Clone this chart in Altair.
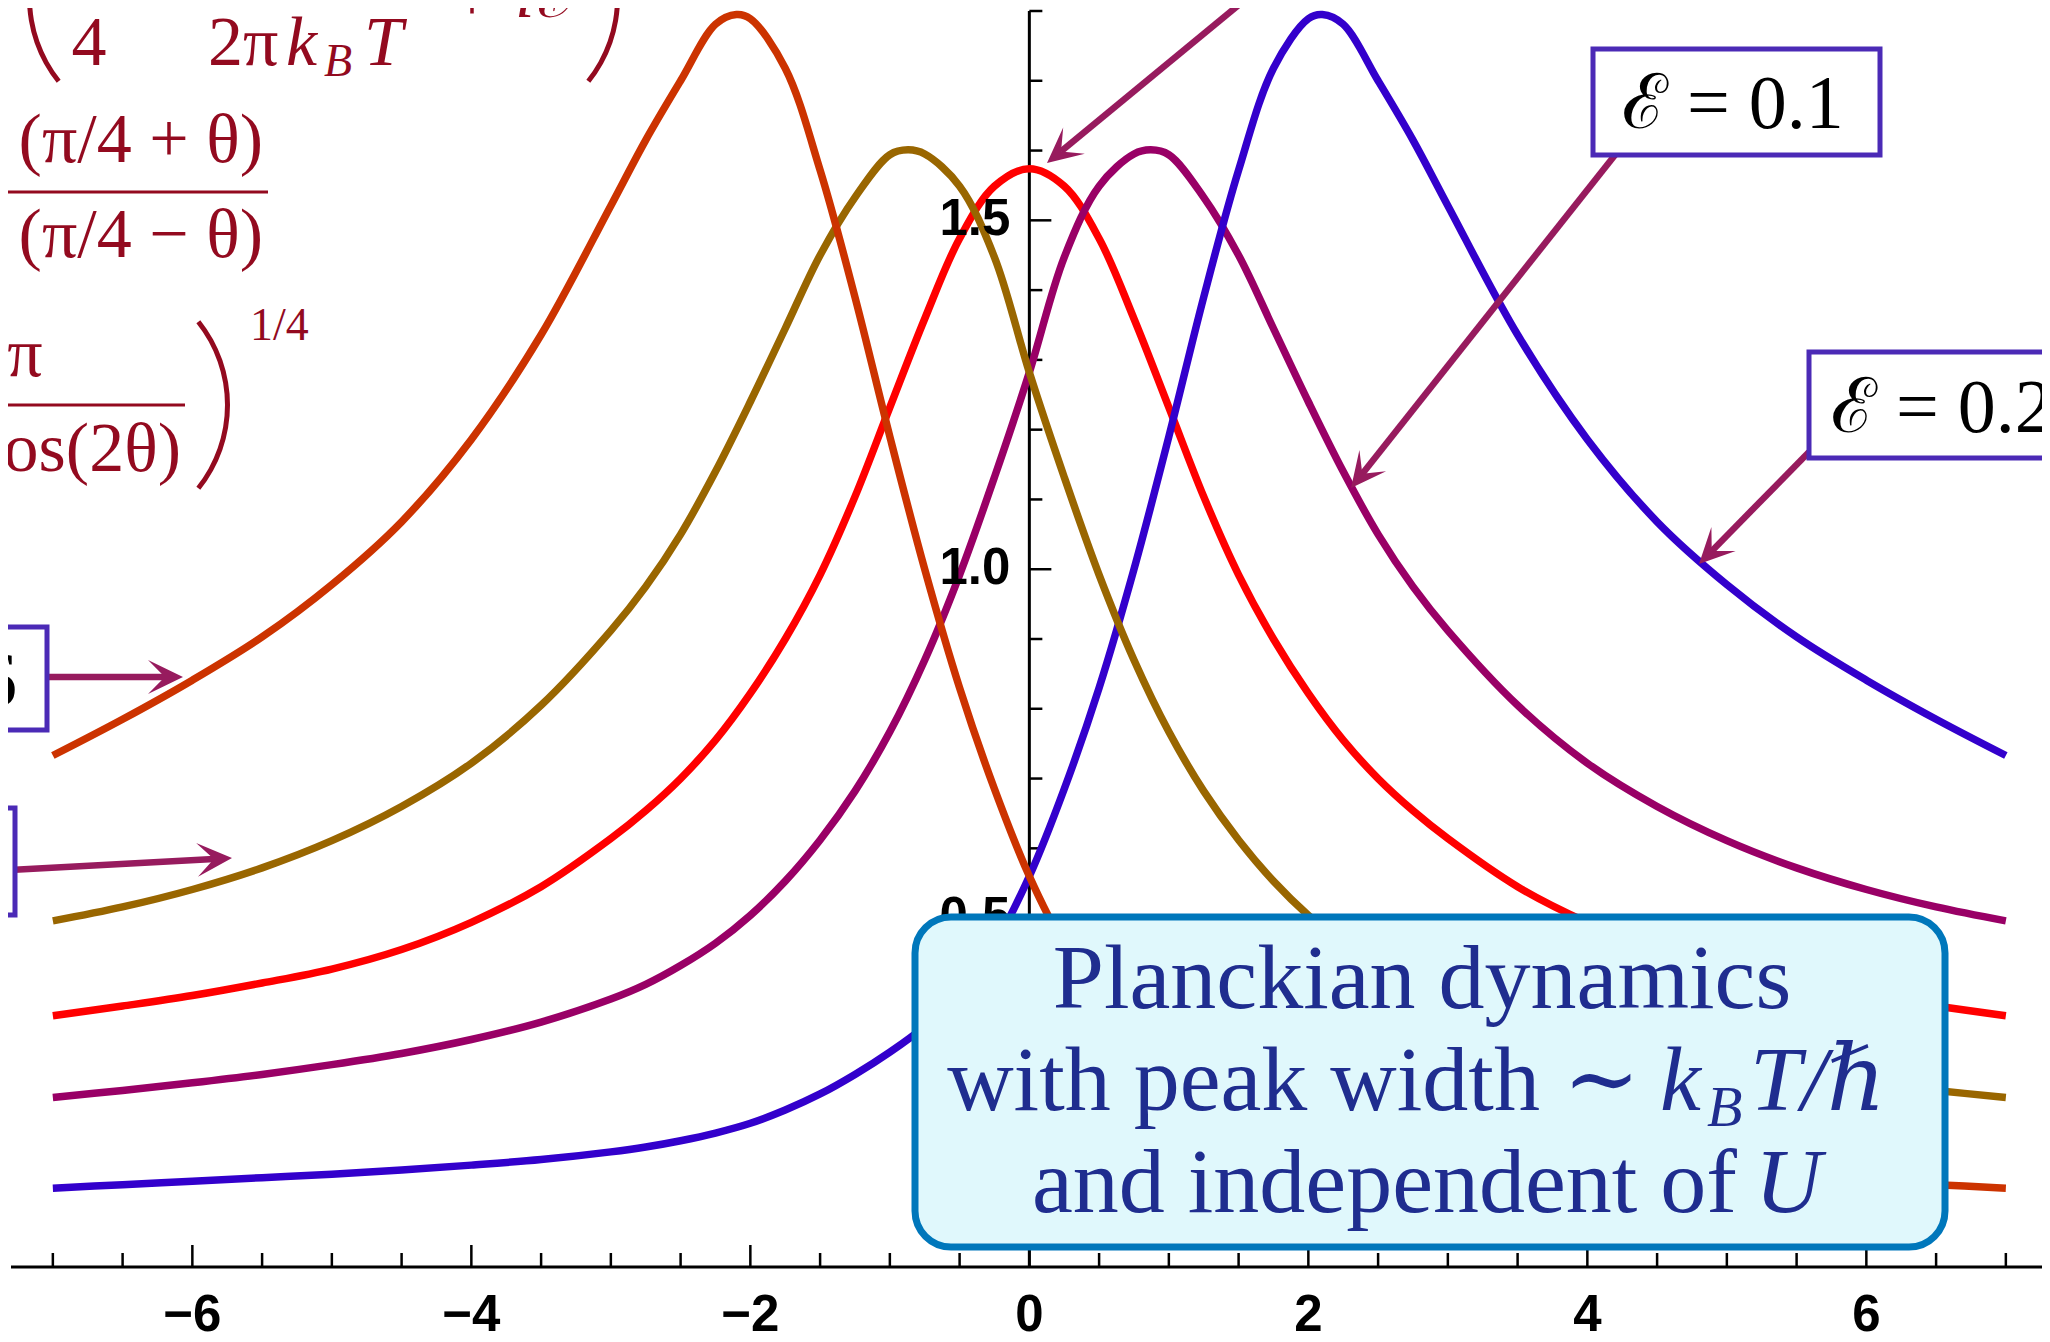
import math
import altair as alt
import pandas as pd

# ------------------------------------------------------------------ data
X_GRID = [-7, -6.5, -6, -5.5, -5, -4.5, -4, -3.5, -3, -2.75, -2.5, -2.25, -2, -1.75, -1.5,
          -1.25, -1, -0.75, -0.5, -0.25, 0, 0.25, 0.5, 0.75, 1, 1.25, 1.5, 1.75, 2, 2.25,
          2.5, 2.75, 3, 3.5, 4, 4.5, 5, 5.5, 6, 6.5, 7]

Y_ORANGE = [0.733, 0.785, 0.841, 0.903, 0.978, 1.068, 1.186, 1.336, 1.521, 1.615, 1.700,
            1.781, 1.789, 1.718, 1.572, 1.390, 1.190, 1.000, 0.830, 0.685, 0.560, 0.462,
            0.393, 0.345, 0.308, 0.276, 0.248, 0.225, 0.206, 0.192, 0.181, 0.172, 0.165,
            0.154, 0.146, 0.139, 0.133, 0.128, 0.123, 0.118, 0.113]
Y_BROWN = [0.496, 0.516, 0.541, 0.572, 0.611, 0.660, 0.722, 0.805, 0.912, 0.975, 1.050,
           1.140, 1.240, 1.345, 1.450, 1.533, 1.594, 1.595, 1.549, 1.447, 1.282, 1.132,
           0.992, 0.870, 0.767, 0.682, 0.612, 0.553, 0.504, 0.464, 0.432, 0.405, 0.384,
           0.351, 0.326, 0.306, 0.290, 0.276, 0.264, 0.253, 0.243]
Y_RED = [0.360, 0.374, 0.389, 0.407, 0.427, 0.455, 0.494, 0.545, 0.614, 0.654, 0.700,
         0.755, 0.822, 0.900, 0.992, 1.104, 1.232, 1.359, 1.474, 1.549, 1.574, 1.549,
         1.474, 1.359, 1.232, 1.104, 0.992, 0.900, 0.822, 0.755, 0.700, 0.654, 0.614,
         0.545, 0.494, 0.455, 0.427, 0.407, 0.389, 0.374, 0.360]
Y_PURPLE = [0.243, 0.253, 0.264, 0.276, 0.290, 0.306, 0.326, 0.351, 0.384, 0.405, 0.432,
            0.464, 0.504, 0.553, 0.612, 0.682, 0.767, 0.870, 0.992, 1.132, 1.282, 1.447,
            1.549, 1.595, 1.594, 1.533, 1.450, 1.345, 1.240, 1.140, 1.050, 0.975, 0.912,
            0.805, 0.722, 0.660, 0.611, 0.572, 0.541, 0.516, 0.496]
Y_BLUE = [0.113, 0.118, 0.123, 0.128, 0.133, 0.139, 0.146, 0.154, 0.165, 0.172, 0.181,
          0.192, 0.206, 0.225, 0.248, 0.276, 0.308, 0.345, 0.393, 0.462, 0.560, 0.685,
          0.830, 1.000, 1.190, 1.390, 1.572, 1.718, 1.789, 1.781, 1.700, 1.615, 1.521,
          1.336, 1.186, 1.068, 0.978, 0.903, 0.841, 0.785, 0.733]

SERIES = ["ℰ = −0.2", "ℰ = −0.1", "ℰ = 0", "ℰ = 0.1", "ℰ = 0.2"]
COLORS = ["#CC3300", "#996600", "#FF0000", "#990066", "#3300CC"]
ALL_Y = [Y_ORANGE, Y_BROWN, Y_RED, Y_PURPLE, Y_BLUE]

PEAK_SERIES = ["ℰ = −0.2", "ℰ = −0.1", "ℰ = 0.1", "ℰ = 0.2"]
PEAK_X = [-2.1, -0.87, 0.87, 2.1]
PEAK_Y = [1.795, 1.601, 1.601, 1.795]

XT_LABELS = [-6, -4, -2, 0, 2, 4, 6]
XT_TEXT = ["−6", "−4", "−2", "0", "2", "4", "6"]
XT_MINOR = [-7, -6.5, -5.5, -5, -4.5, -3.5, -3, -2.5, -1.5, -1, -0.5,
            0.5, 1, 1.5, 2.5, 3, 3.5, 4.5, 5, 5.5, 6.5, 7]
YT_LABELS = [0.5, 1.0, 1.5]
YT_TEXT = ["0.5", "1.0", "1.5"]
YT_MINOR = [0.1, 0.2, 0.3, 0.4, 0.6, 0.7, 0.8, 0.9, 1.1, 1.2, 1.3, 1.4, 1.6, 1.7, 1.8]

# ------------------------------------------------------------------ layout
W, H = 2031, 1256
X_MIN, PXX = -7.3, 139.5
X_MAX = X_MIN + W / PXX
Y_MAX = 1.8
PXY = H / Y_MAX
LEFT, TOP = 11, 11            # page position of the plot area
X0PX = (0 - X_MIN) * PXX      # x = 0 inside the plot area

XS = alt.Scale(domain=[X_MIN, X_MAX], nice=False, zero=False)
YS = alt.Scale(domain=[0, Y_MAX], nice=False, zero=False)


def dx(px):
    return X_MIN + (px - LEFT) / PXX


def dy(py):
    return Y_MAX - (py - TOP) / PXY


ONE = pd.DataFrame({"k": [0]})
SERIF = "Liberation Serif, DejaVu Serif, serif"
SANS = "Liberation Sans, Arial, sans-serif"
FORMULA = "#930A1F"
BOXTXT = "#1F2D8F"
ARROW = "#971B5E"
FRAME = "#4B2AB6"

# ------------------------------------------------------------------ curves
rows = []
for name, ys in zip(SERIES, ALL_Y):
    for x, y in zip(X_GRID, ys):
        rows.append({"series": name, "x": x, "y": y})
for name, x, y in zip(PEAK_SERIES, PEAK_X, PEAK_Y):
    rows.append({"series": name, "x": x, "y": y})
df = pd.DataFrame(rows).sort_values(["series", "x"])

curves = alt.Chart(df).mark_line(strokeWidth=7.5, interpolate="catmull-rom").encode(
    x=alt.X("x:Q", scale=XS, axis=None),
    y=alt.Y("y:Q", scale=YS, axis=None),
    color=alt.Color("series:N", scale=alt.Scale(domain=SERIES, range=COLORS), legend=None),
    detail="series:N",
)

# ------------------------------------------------------------------ axes pieces
xaxis_line = alt.Chart(ONE).mark_rule(color="black", strokeWidth=3).encode(
    y=alt.YDatum(0, scale=YS, axis=None),
    x=alt.XDatum(X_MIN, scale=XS, axis=None),
    x2=alt.X2Datum(X_MAX),
)
yaxis_line = alt.Chart(ONE).mark_rule(color="black", strokeWidth=3).encode(
    x=alt.XDatum(0, scale=XS, axis=None),
    y=alt.YDatum(0, scale=YS, axis=None),
    y2=alt.Y2Datum(Y_MAX),
)

xt_major = alt.Chart(pd.DataFrame({"t": XT_LABELS})).mark_rule(color="black", strokeWidth=2.5).encode(
    x=alt.X("t:Q", scale=XS, axis=None), y=alt.value(H), y2=alt.value(H - 22))
xt_minor = alt.Chart(pd.DataFrame({"t": XT_MINOR})).mark_rule(color="black", strokeWidth=2.5).encode(
    x=alt.X("t:Q", scale=XS, axis=None), y=alt.value(H), y2=alt.value(H - 14))
yt_major = alt.Chart(pd.DataFrame({"t": YT_LABELS})).mark_rule(color="black", strokeWidth=2.5).encode(
    y=alt.Y("t:Q", scale=YS, axis=None), x=alt.value(X0PX), x2=alt.value(X0PX + 22))
yt_minor = alt.Chart(pd.DataFrame({"t": YT_MINOR})).mark_rule(color="black", strokeWidth=2.5).encode(
    y=alt.Y("t:Q", scale=YS, axis=None), x=alt.value(X0PX), x2=alt.value(X0PX + 13))
x_labels = alt.Chart(pd.DataFrame({"t": XT_LABELS, "lab": XT_TEXT})).mark_text(
    align="center", baseline="alphabetic", font=SANS, fontSize=51, fontWeight="bold", color="black"
).encode(x=alt.X("t:Q", scale=XS, axis=None), y=alt.value(H + 64), text="lab:N")
y_labels = alt.Chart(pd.DataFrame({"t": YT_LABELS, "lab": YT_TEXT})).mark_text(
    align="right", baseline="middle", font=SANS, fontSize=51, fontWeight="bold", color="black"
).encode(y=alt.Y("t:Q", scale=YS, axis=None), x=alt.value(X0PX - 19), text="lab:N")


# ------------------------------------------------------------------ annotation helpers
def txt(s, px, py, size, color, align="left", style="normal", font=SERIF, weight="normal"):
    return alt.Chart(ONE).mark_text(
        text=s, align=align, baseline="alphabetic", fontSize=size, font=font,
        fontStyle=style, fontWeight=weight, color=color
    ).encode(x=alt.XDatum(dx(px), scale=XS, axis=None),
             y=alt.YDatum(dy(py), scale=YS, axis=None))


def hbar(px1, px2, py, color, width):
    return alt.Chart(ONE).mark_rule(color=color, strokeWidth=width).encode(
        x=alt.XDatum(dx(px1), scale=XS, axis=None), x2=alt.X2Datum(dx(px2)),
        y=alt.YDatum(dy(py), scale=YS, axis=None))


def box(px1, py1, px2, py2, fill, stroke, sw, radius=0):
    return alt.Chart(ONE).mark_rect(fill=fill, stroke=stroke, strokeWidth=sw,
                                    cornerRadius=radius).encode(
        x=alt.XDatum(dx(px1), scale=XS, axis=None), x2=alt.X2Datum(dx(px2)),
        y=alt.YDatum(dy(py1), scale=YS, axis=None), y2=alt.Y2Datum(dy(py2)))


def paren(cx, cy, t1, t2, color, r_out=136, thick=5):
    # a large thin parenthesis drawn as a ring segment around (cx, cy)
    return alt.Chart(ONE).mark_arc(color=color).encode(
        x=alt.XDatum(dx(cx), scale=XS, axis=None),
        y=alt.YDatum(dy(cy), scale=YS, axis=None),
        theta=alt.value(t1), theta2=alt.value(t2),
        radius=alt.value(r_out), radius2=alt.value(r_out - thick))


# ------------------------------------------------------------------ arrows
ARROWS = [((1269, -20), (1047, 163)),
          ((1615, 155), (1351, 488)),
          ((1809, 452), (1699, 564)),
          ((40, 677), (183, 677)),
          ((10, 870), (232, 858))]
HEAD_LEN, NOTCH = 35, 18
arows = []
for (sx, sy), (tx, ty) in ARROWS:
    L = math.hypot(tx - sx, ty - sy)
    ux, uy = (tx - sx) / L, (ty - sy) / L
    ex, ey = tx - NOTCH * ux, ty - NOTCH * uy
    ang = math.degrees(math.atan2(ux, -uy)) % 360
    arows.append({"x": dx(sx), "y": dy(sy), "x2": dx(ex), "y2": dy(ey),
                  "tx": dx(tx), "ty": dy(ty), "ang": ang})
adf = pd.DataFrame(arows)
shafts = alt.Chart(adf).mark_rule(color=ARROW, strokeWidth=6.5, strokeCap="butt").encode(
    x=alt.X("x:Q", scale=XS, axis=None), y=alt.Y("y:Q", scale=YS, axis=None),
    x2="x2:Q", y2="y2:Q")
HEAD = "M0,0 L0.486,1 L0,0.52 L-0.486,1 Z"
heads = alt.Chart(adf).mark_point(shape=HEAD, filled=True, size=(2 * HEAD_LEN) ** 2,
                                  color=ARROW, opacity=1, strokeWidth=0).encode(
    x=alt.X("tx:Q", scale=XS, axis=None), y=alt.Y("ty:Q", scale=YS, axis=None),
    angle=alt.Angle("ang:Q", scale=None))

# ------------------------------------------------------------------ label boxes
frames = [
    box(1593, 49, 1880, 155, "white", FRAME, 5),
    box(1809, 352, 2080, 458, "white", FRAME, 5),
    box(-300, 627, 47, 730, "white", FRAME, 5),
    box(-300, 808, 15, 915, "white", FRAME, 5),
]
frame_text = [
    txt("ℰ = 0.1", 1622, 128, 76, "black"),
    txt("ℰ = 0.2", 1831, 432, 76, "black"),
    txt("6", 17, 705, 76, "black", align="right"),
]

# ------------------------------------------------------------------ formula (top left)
HALF = math.radians(38.6)
formula = [
    paren(163, -2, 1.5 * math.pi - HALF, 1.5 * math.pi + HALF, FORMULA),
    txt("4", 89, 65, 70, FORMULA, align="center"),
    txt("2π", 208, 65, 70, FORMULA),
    txt("k", 286, 65, 70, FORMULA, style="italic"),
    txt("B", 324, 76, 46, FORMULA, style="italic"),
    txt("T", 364, 65, 70, FORMULA, style="italic"),
    txt("+", 472, 21, 70, FORMULA, align="center"),
    txt("iℰ", 515, 17, 70, FORMULA, style="italic"),
    paren(484, -2, 0.5 * math.pi - HALF, 0.5 * math.pi + HALF, FORMULA),
    txt("(π/4 + θ)", 263, 162, 70, FORMULA, align="right"),
    hbar(-60, 268, 192, FORMULA, 3),
    txt("(π/4 − θ)", 263, 257, 70, FORMULA, align="right"),
    txt("π", 25, 376, 70, FORMULA, align="center"),
    hbar(-100, 185, 405, FORMULA, 3),
    txt("cos(2θ)", 181, 471, 70, FORMULA, align="right"),
    paren(94, 405, 0.5 * math.pi - HALF, 0.5 * math.pi + HALF, FORMULA),
    txt("1/4", 250, 340, 46, FORMULA),
]

# ------------------------------------------------------------------ note box
note = [
    box(915, 917, 1945, 1247, "#E0F8FC", "#0077BB", 7, radius=36),
    txt("Planckian dynamics", 1422, 1008, 92, BOXTXT, align="center"),
    txt("with peak width ∼", 1640, 1110, 92, BOXTXT, align="right"),
    txt("k", 1660, 1110, 92, BOXTXT, style="italic"),
    txt("B", 1707, 1126, 58, BOXTXT, style="italic"),
    txt("T/ℏ", 1750, 1110, 92, BOXTXT, style="italic"),
    txt("and independent of", 1737, 1212, 92, BOXTXT, align="right"),
    txt("U", 1755, 1212, 92, BOXTXT, style="italic"),
]

layers = ([xt_major, xt_minor, yt_major, yt_minor, xaxis_line, yaxis_line, curves,
           x_labels, y_labels, shafts, heads] + frames + frame_text + formula + note)

chart = alt.layer(*layers).properties(
    width=W, height=H,
    autosize=alt.AutoSizeParams(type="none"),
    padding={"left": 3, "top": 3, "right": 0, "bottom": 67},
).configure_view(stroke=None)

chart.save("out.html", embed_options={"renderer": "svg", "actions": False})
